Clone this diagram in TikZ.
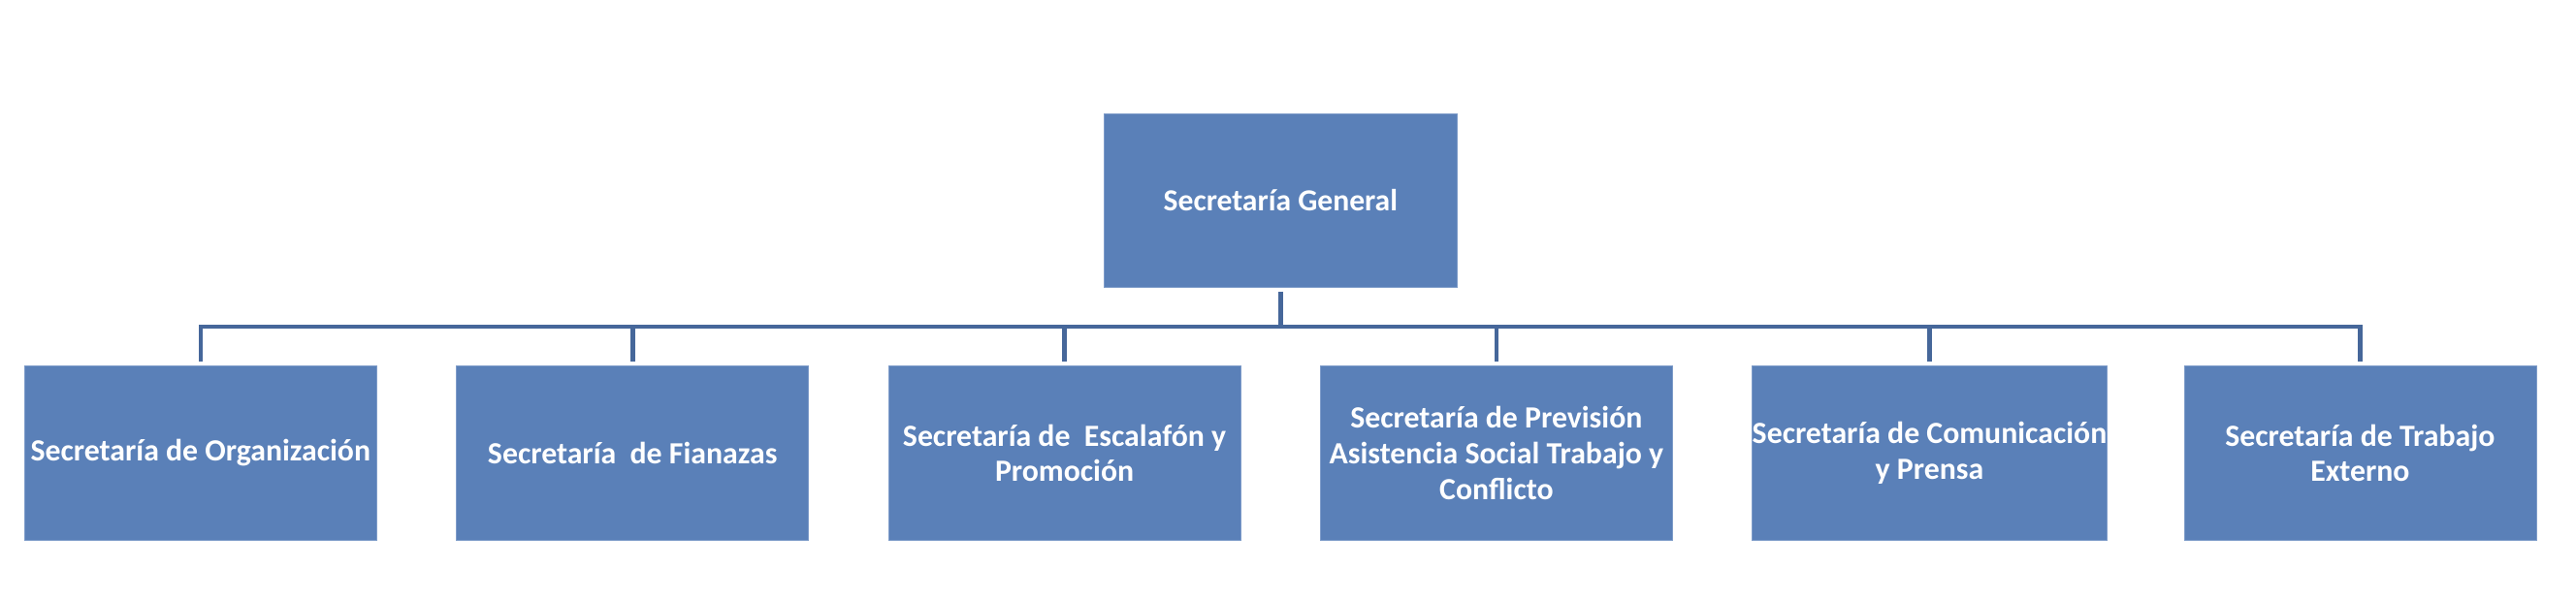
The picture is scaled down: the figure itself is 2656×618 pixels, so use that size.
\documentclass[tikz,border=0pt]{standalone}
\usepackage{fontspec}
\setmainfont{Carlito}
\definecolor{boxfill}{HTML}{5A80B8}
\definecolor{boxedge}{HTML}{7E9CC9}
\definecolor{linecol}{HTML}{46679A}
\begin{document}
\begin{tikzpicture}[x=0.5pt,y=-0.5pt,
  orgbox/.style={draw=boxedge,line width=0.4pt,fill=boxfill,text=white,font=\bfseries\fontsize{15.9}{18.3}\selectfont,
    minimum width=181.5pt,minimum height=90pt,inner sep=0pt,align=center,anchor=north west},
  topbox/.style={orgbox,font=\bfseries\fontsize{15.8}{19}\selectfont,minimum width=182pt,minimum height=89.5pt},
  conn/.style={draw=linecol,line width=2.3pt}]
\useasboundingbox (0,0) rectangle (2656,618);
\node[topbox] (g) at (1138,117) {Secretaría General};
\node[orgbox] (b1) at (25,377) {Secretaría de Organización};
\node[orgbox] (b2) at (470.3,377) {Secretaría\ \ de Fianazas};
\node[orgbox] (b3) at (915.7,377) {Secretaría de\ \ Escalafón y\\Promoción};
\node[orgbox] (b4) at (1361,377) {Secretaría de Previsión\\Asistencia Social Trabajo y\\Conflicto};
\node[orgbox] (b5) at (1806.3,377) {Secretaría de Comunicación\\y Prensa};
\node[orgbox] (b6) at (2251.5,377) {Secretaría de Trabajo\\Externo};
\coordinate (bar) at (0,337);
\draw[conn] ([yshift=-2pt]g.south) -- (g.south |- bar);
\draw[conn] ([yshift=2pt]b1.north) -- (b1.north |- bar) -- (b6.north |- bar) -- ([yshift=2pt]b6.north);
\foreach \b in {b2,b3,b4,b5}{
  \draw[conn] (\b.north |- bar) -- ([yshift=2pt]\b.north);
}
\end{tikzpicture}
\end{document}
